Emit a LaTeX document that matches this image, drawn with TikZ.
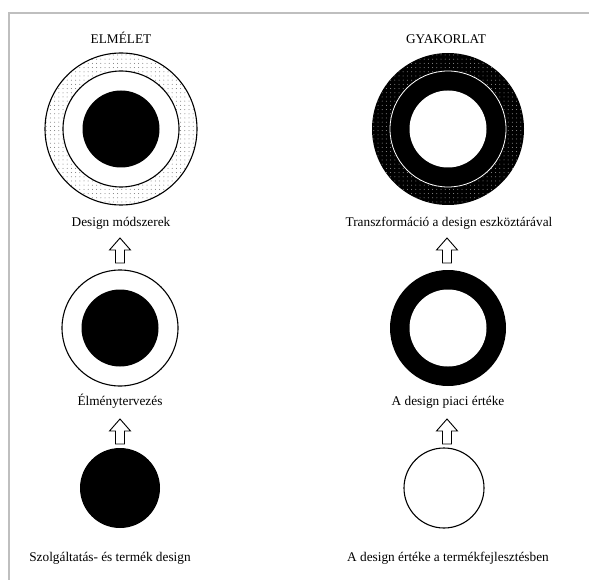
\documentclass[tikz,border=0pt]{standalone}
\usepackage{fontspec}
\setmainfont{Liberation Serif}
\usetikzlibrary{patterns.meta}
\begin{document}
\begin{tikzpicture}[x=1pt,y=-1pt,
  lbl/.style={font=\fontsize{13.3}{15}\selectfont, inner sep=0pt, anchor=base},
  outline/.style={draw=black, line width=1.1pt},
  dotsgray/.style={pattern={Dots[distance=4.2pt,radius=0.5pt]}, pattern color=black!55},
  dotsblack/.style={pattern={Dots[distance=4.2pt,radius=0.5pt]}, pattern color=white!60!black},
  blockarrow/.style={draw=black, line width=0.9pt, fill=white, line join=miter}]
\useasboundingbox (0,0) rectangle (589,580);
\draw[black!25, line width=1.6pt] (9,580) -- (9,13) -- (589,13);

% column centres
\coordinate (L1) at (121,129);
\coordinate (L2) at (120,328);
\coordinate (L3) at (120,488);
\coordinate (R1) at (448,129);
\coordinate (R2) at (448,328);
\coordinate (R3) at (444,488);

% titles
\node[lbl] (tl) at (121,44) {ELMÉLET};
\node[lbl] (tr) at (446,44) {GYAKORLAT};

% ---- left column ----
\path[dotsgray] (L1) circle (76);
\draw[outline] (L1) circle (76);
\draw[outline, fill=white] (L1) circle (58);
\fill[black] (L1) circle (38.5);

\draw[outline, fill=white] (L2) circle (58);
\fill[black] (L2) circle (38.5);

\fill[black] (L3) circle (40);

% ---- right column ----
\fill[black] (R1) circle (76);
\path[dotsblack] (R1) circle (76);
\fill[black] (R1) circle (58);
\draw[white, line width=0.8pt] (R1) circle (58);
\fill[white] (R1) circle (38.5);

\fill[black] (R2) circle (58);
\fill[white] (R2) circle (38.5);

\draw[outline] (R3) circle (40);

% labels
\node[lbl] (d1) at (121,226) {Design módszerek};
\node[lbl] (d2) at (120,405) {Élménytervezés};
\node[lbl] (d3) at (110,561) {Szolgáltatás- és termék design};
\node[lbl] (g1) at (449,226) {Transzformáció a design eszköztárával};
\node[lbl] (g2) at (448,405) {A design piaci értéke};
\node[lbl] (g3) at (448,561) {A design értéke a termékfejlesztésben};

% block arrows
\foreach \x/\y/\n in {120/263/a1, 120/444/a2, 447/263/a3, 447/444/a4}{
  \coordinate (\n) at (\x,\y);
  \draw[blockarrow] ({\x-4.5},\y) -- ({\x-4.5},{\y-13}) -- ({\x-10.5},{\y-13}) -- (\x,{\y-25}) -- ({\x+10.5},{\y-13}) -- ({\x+4.5},{\y-13}) -- ({\x+4.5},\y) -- cycle;
}
\end{tikzpicture}
\end{document}
